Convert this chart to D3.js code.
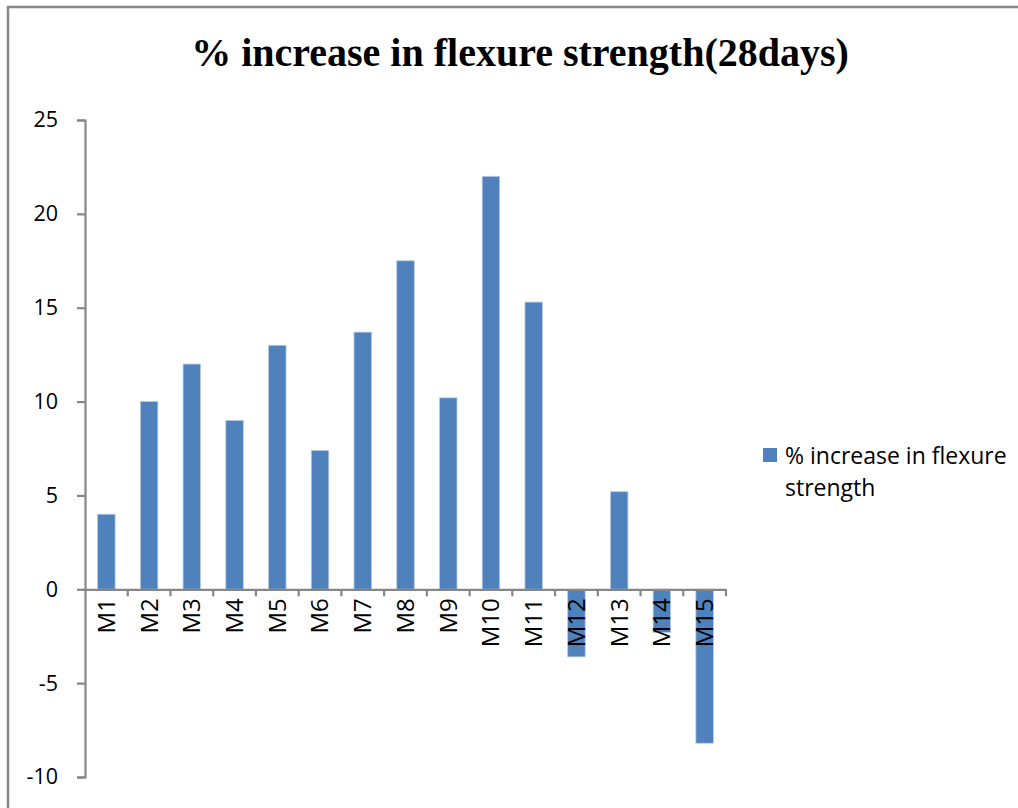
<!DOCTYPE html>
<html>
<head>
<meta charset="utf-8">
<script src="https://cdn.jsdelivr.net/npm/d3@7"></script>
<style>
  body { margin: 0; padding: 0; background: #fff; }
  svg { display: block; }
</style>
</head>
<body>
<div id="main"></div>
<script>
const categories = ['M1', 'M2', 'M3', 'M4', 'M5', 'M6', 'M7', 'M8', 'M9', 'M10', 'M11', 'M12', 'M13', 'M14', 'M15'];
const values = [4, 10, 12, 9, 13, 7.4, 13.7, 17.5, 10.2, 22, 15.3, -3.6, 5.2, -2.3, -8.2];
const yTicks = [25, 20, 15, 10, 5, 0, -5, -10];
const chartTitle = '% increase in flexure strength(28days)';
const legendLines = ['% increase in flexure', 'strength'];

const WIDTH = 1018, HEIGHT = 808;
const AXISCOLOUR = '#868686';
const BARCOLOUR = '#4F81BD';
const LABELFONT = '"Open Sans", "Liberation Sans", sans-serif';

const svg = d3.select('#main').append('svg').attr('width', WIDTH).attr('height', HEIGHT);

// chart area frame (runs off the right and bottom)
svg.append('rect')
    .attr('x', 8).attr('y', 7)
    .attr('width', WIDTH + 20).attr('height', HEIGHT + 20)
    .attr('fill', 'white').attr('stroke', AXISCOLOUR).attr('stroke-width', 2.5);

svg.append('text')
    .attr('x', 520).attr('y', 66)
    .attr('text-anchor', 'middle')
    .attr('font-family', '"Liberation Serif", "DejaVu Serif", serif')
    .attr('font-weight', 'bold')
    .attr('font-size', 40)
    .text(chartTitle);

const scaleX = d3.scaleBand().domain(categories).range([85, 726]).paddingInner(0).paddingOuter(0);
const scaleY = d3.scaleLinear().domain([-10, 25]).range([777, 120]);

const barWidth = scaleX.bandwidth() * 0.41;

svg.append('g').selectAll('rect').data(values).enter().append('rect')
    .attr('x', (d, i) => scaleX(categories[i]) + (scaleX.bandwidth() - barWidth) / 2)
    .attr('y', (d) => scaleY(Math.max(0, d)))
    .attr('width', barWidth)
    .attr('height', (d) => Math.abs(scaleY(d) - scaleY(0)))
    .attr('fill', BARCOLOUR)
    .attr('stroke', '#b9cde5').attr('stroke-width', 0.8);

// y axis
const axisY = d3.axisLeft(scaleY).tickValues(yTicks).tickSize(8).tickPadding(19).tickFormat(d3.format('d'));
const gy = svg.append('g').attr('transform', 'translate(85,0)').call(axisY);
gy.select('.domain').attr('stroke', AXISCOLOUR).attr('stroke-width', 2.2);
gy.selectAll('.tick line').attr('stroke', AXISCOLOUR).attr('stroke-width', 2.2);
gy.selectAll('.tick text')
    .attr('font-family', LABELFONT).attr('font-size', 21.5).attr('fill', '#000')
    .text((d) => d < 0 ? '-' + Math.abs(d) : d);

// x axis with ticks between categories
const axisX = d3.axisBottom(scaleX).tickSize(0).tickPadding(0);
const gx = svg.append('g').attr('transform', `translate(0,${scaleY(0)})`).call(axisX);
gx.select('.domain').attr('stroke', AXISCOLOUR).attr('stroke-width', 2.2);
gx.selectAll('.tick text')
    .attr('font-family', LABELFONT).attr('font-size', 24).attr('fill', '#000')
    .attr('text-anchor', 'end')
    .attr('dy', '0.35em')
    .attr('transform', 'translate(0,9) rotate(-90)');
gx.selectAll('.boundary').data(categories).enter().append('line')
    .attr('x1', (d) => scaleX(d) + scaleX.bandwidth()).attr('x2', (d) => scaleX(d) + scaleX.bandwidth())
    .attr('y1', 0).attr('y2', 7)
    .attr('stroke', AXISCOLOUR).attr('stroke-width', 2.2);

// legend
const legend = svg.append('g').attr('transform', 'translate(763,448)');
legend.append('rect').attr('width', 14).attr('height', 14).attr('fill', BARCOLOUR);
legend.selectAll('text').data(legendLines).enter().append('text')
    .attr('x', 22).attr('y', (d, i) => 16 + i * 32)
    .attr('font-family', LABELFONT).attr('font-size', 23).attr('fill', '#000')
    .text((d) => d);
</script>
</body>
</html>
